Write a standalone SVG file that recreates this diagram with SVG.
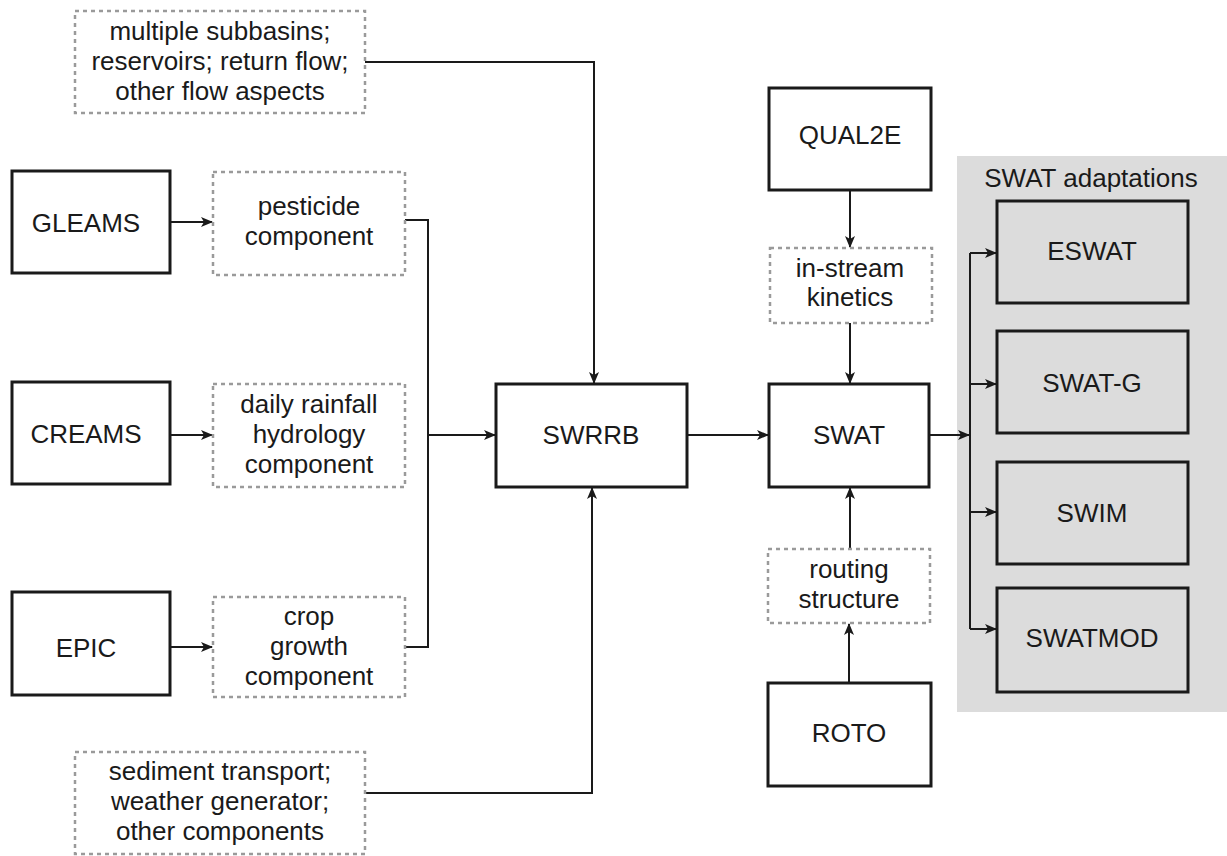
<svg xmlns="http://www.w3.org/2000/svg" width="1227" height="856" viewBox="0 0 1227 856">
<defs>
<style>
.box{fill:#fff;stroke:#1a1a1a;stroke-width:3}
.gbox{fill:#dcdcdc;stroke:#1a1a1a;stroke-width:3}
.dot{fill:#fff;stroke:#9a9a9a;stroke-width:2.5;stroke-dasharray:4 4}
.t{font-family:"Liberation Sans",Arial,sans-serif;font-size:26px;fill:#1a1a1a;text-anchor:middle}
.c{fill:none;stroke:#1a1a1a;stroke-width:2}
</style>
<marker id="ah" viewBox="0 0 12 10" refX="11" refY="5" markerWidth="12" markerHeight="10" markerUnits="userSpaceOnUse" orient="auto">
<path d="M0,0 L12,5 L0,10 L3,5 z" fill="#1a1a1a"/>
</marker>
</defs>
<rect x="957" y="156" width="270" height="556" fill="#dcdcdc"/>
<g id="connectors">
<path class="c" d="M365,62 H594 V383" marker-end="url(#ah)"/>
<path class="c" d="M170,222 H212" marker-end="url(#ah)"/>
<path class="c" d="M170,435 H212" marker-end="url(#ah)"/>
<path class="c" d="M170,647 H212" marker-end="url(#ah)"/>
<path class="c" d="M405,220 H428 V647 H405"/>
<path class="c" d="M428,435 H495" marker-end="url(#ah)"/>
<path class="c" d="M687,435 H768" marker-end="url(#ah)"/>
<path class="c" d="M365,793 H592 V488" marker-end="url(#ah)"/>
<path class="c" d="M850,190 V247" marker-end="url(#ah)"/>
<path class="c" d="M850,323 V383" marker-end="url(#ah)"/>
<path class="c" d="M849,683 V624" marker-end="url(#ah)"/>
<path class="c" d="M850,549 V488" marker-end="url(#ah)"/>
<path class="c" d="M929,435 H969" marker-end="url(#ah)"/>
<path class="c" d="M970,253 V629"/>
<path class="c" d="M970,253 H996" marker-end="url(#ah)"/>
<path class="c" d="M970,384 H996" marker-end="url(#ah)"/>
<path class="c" d="M970,512 H996" marker-end="url(#ah)"/>
<path class="c" d="M970,629 H996" marker-end="url(#ah)"/>
</g>
<g id="flow-aspects"><rect class="dot" x="75" y="11" width="290" height="102"/><text class="t" x="220" y="40">multiple subbasins;</text><text class="t" x="220" y="70">reservoirs; return flow;</text><text class="t" x="220" y="100">other flow aspects</text></g>
<g id="gleams"><rect class="box" x="12" y="171" width="158" height="102"/><text class="t" x="86" y="232">GLEAMS</text></g>
<g id="pesticide"><rect class="dot" x="213" y="172" width="192" height="103"/><text class="t" x="309" y="215">pesticide</text><text class="t" x="309" y="245">component</text></g>
<g id="creams"><rect class="box" x="12" y="382" width="158" height="102"/><text class="t" x="86" y="443">CREAMS</text></g>
<g id="daily"><rect class="dot" x="213" y="384" width="192" height="103"/><text class="t" x="309" y="413">daily rainfall</text><text class="t" x="309" y="443">hydrology</text><text class="t" x="309" y="473">component</text></g>
<g id="epic"><rect class="box" x="12" y="592" width="158" height="103"/><text class="t" x="86" y="657">EPIC</text></g>
<g id="crop"><rect class="dot" x="213" y="597" width="192" height="100"/><text class="t" x="309" y="625">crop</text><text class="t" x="309" y="655">growth</text><text class="t" x="309" y="685">component</text></g>
<g id="other-components"><rect class="dot" x="75" y="752" width="290" height="102"/><text class="t" x="220" y="780">sediment transport;</text><text class="t" x="220" y="810">weather generator;</text><text class="t" x="220" y="840">other components</text></g>
<g id="swrrb"><rect class="box" x="496" y="384" width="191" height="103"/><text class="t" x="591" y="444">SWRRB</text></g>
<g id="qual2e"><rect class="box" x="769" y="88" width="162" height="102"/><text class="t" x="850" y="144">QUAL2E</text></g>
<g id="instream"><rect class="dot" x="770" y="248" width="162" height="75"/><text class="t" x="850" y="277">in-stream</text><text class="t" x="850" y="306">kinetics</text></g>
<g id="swat"><rect class="box" x="769" y="384" width="160" height="103"/><text class="t" x="849" y="444">SWAT</text></g>
<g id="routing"><rect class="dot" x="768" y="549" width="162" height="74"/><text class="t" x="849" y="578">routing</text><text class="t" x="849" y="608">structure</text></g>
<g id="roto"><rect class="box" x="768" y="683" width="163" height="103"/><text class="t" x="849" y="742">ROTO</text></g>
<g id="adaptations"><text class="t" x="1091" y="187">SWAT adaptations</text></g>
<g id="eswat"><rect class="gbox" x="997" y="201" width="191" height="102"/><text class="t" x="1092" y="260">ESWAT</text></g>
<g id="swatg"><rect class="gbox" x="997" y="331" width="191" height="102"/><text class="t" x="1092" y="392">SWAT-G</text></g>
<g id="swim"><rect class="gbox" x="997" y="462" width="191" height="102"/><text class="t" x="1092" y="522">SWIM</text></g>
<g id="swatmod"><rect class="gbox" x="997" y="588" width="191" height="104"/><text class="t" x="1092" y="647">SWATMOD</text></g>
</svg>
